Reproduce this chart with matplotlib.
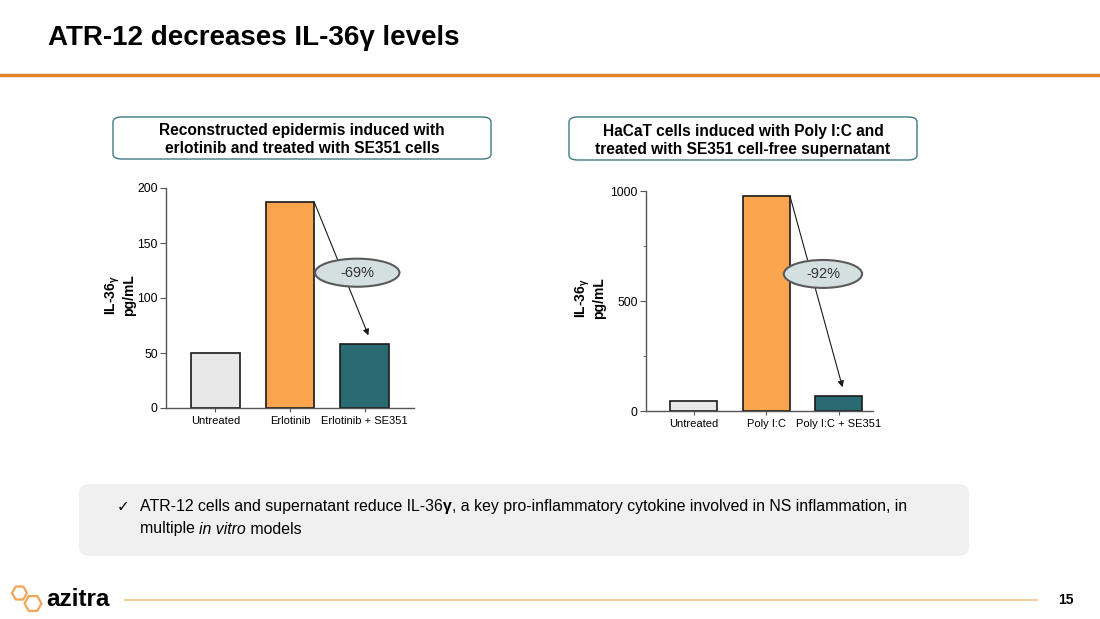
import matplotlib
matplotlib.use("Agg")
import matplotlib.pyplot as plt
from matplotlib.patches import FancyBboxPatch, Ellipse, RegularPolygon
import numpy as np

# data
left_cats = ["Untreated", "Erlotinib", "Erlotinib + SE351"]
left_vals = [50, 187, 58]
left_pct = "-69%"
right_cats = ["Untreated", "Poly I:C", "Poly I:C + SE351"]
right_vals = [47, 977, 68]
right_pct = "-92%"
bar_colors = ["#e8e8e8", "#fba64f", "#2a6b73"]

W, H = 1100, 619
plt.rcParams["font.family"] = ["Liberation Sans", "DejaVu Sans"]
plt.rcParams["mathtext.fontset"] = "custom"
plt.rcParams["mathtext.rm"] = "Liberation Sans"
plt.rcParams["mathtext.bf"] = "Liberation Sans:bold"

fig = plt.figure(figsize=(11, 6.19), dpi=100)
fig.patch.set_facecolor("white")


def px(x, y):
    return x / W, 1 - y / H


def box_px(x0, y0, x1, y1):
    return [x0 / W, 1 - y1 / H, (x1 - x0) / W, (y1 - y0) / H]


# header
fig.text(*px(48, 38), "ATR-12 decreases IL-36\u03b3 levels", fontsize=20,
         fontweight="bold", va="center", ha="left")
fig.add_artist(plt.Line2D([0, 1], [1 - 75 / H] * 2, color="#e0832a", lw=2.5))


def panel_title(x0, y0, x1, y1, txt):
    b = box_px(x0, y0, x1, y1)
    fig.add_artist(FancyBboxPatch((b[0], b[1]), b[2], b[3],
                                  boxstyle="round,pad=0,rounding_size=0.008",
                                  transform=fig.transFigure, fc="white",
                                  ec="#3d7a82", lw=1.0))
    fig.text(b[0] + b[2] / 2, b[1] + b[3] / 2 - 0.003, txt, ha="center",
             va="center", fontsize=11.2, fontweight="bold", linespacing=1.25)


def bar_panel(rect, cats, vals, ymax, yticks, minor, xlim, pct, ell_xy, ell_wh, lab_x):
    ax = fig.add_axes(rect)
    x = np.arange(len(cats))
    w = 0.65
    ax.bar(x, vals, width=w, color=bar_colors, edgecolor="#1a1a1a", lw=1.2,
           zorder=2)
    ax.set_xlim(*xlim)
    ax.set_ylim(0, ymax)
    ax.set_yticks(yticks)
    ax.set_yticks(minor, minor=True)
    ax.set_xticks(x)
    ax.set_xticklabels(cats, fontsize=8)
    ax.tick_params(axis="y", labelsize=8.7, length=4, color="#555555", pad=2)
    ax.tick_params(axis="y", which="minor", length=2.5, color="#555555")
    ax.tick_params(axis="x", length=3, color="#555555", pad=3)
    for s in ["top", "right"]:
        ax.spines[s].set_visible(False)
    for s in ["left", "bottom"]:
        ax.spines[s].set_color("#555555")
        ax.spines[s].set_linewidth(1.0)
    # arrow from the stimulated bar to the treated bar
    ax.annotate("", xy=(x[2] + 0.05, vals[2] + ymax * 0.04),
                xytext=(x[1] + w / 2, vals[1]),
                arrowprops=dict(arrowstyle="-|>", color="#1a1a1a", lw=0.8,
                                mutation_scale=9, shrinkA=0, shrinkB=0),
                zorder=3)
    ax.add_patch(Ellipse(ell_xy, ell_wh[0], ell_wh[1], fc="#d4dfe0",
                         ec="#5a5a5a", lw=1.5, zorder=4, clip_on=False))
    ax.text(ell_xy[0], ell_xy[1], pct, ha="center", va="center", fontsize=10.5,
            color="#333333", zorder=5)
    yc = rect[1] + rect[3] / 2 + 0.005
    fig.text(lab_x[0] / W, yc, "IL-36$_{\\mathregular{\u03b3}}$", rotation=90,
             ha="center", va="center", fontsize=10, fontweight="bold")
    fig.text(lab_x[1] / W, yc, "pg/mL", rotation=90, ha="center", va="center",
             fontsize=10, fontweight="bold")
    return ax


panel_title(113, 117, 491, 159,
            "Reconstructed epidermis induced with\nerlotinib and treated with SE351 cells")
panel_title(569, 117, 917, 160,
            "HaCaT cells induced with Poly I:C and\ntreated with SE351 cell-free supernatant")

bar_panel(box_px(166, 188, 414, 408), left_cats, left_vals, 200,
          [0, 50, 100, 150, 200], [], (-0.66, 2.66), left_pct,
          (1.9, 123), (1.13, 25.5), (113, 129))
bar_panel(box_px(646, 191, 873, 411), right_cats, right_vals, 1000,
          [0, 500, 1000], [250, 750], (-0.66, 2.47), right_pct,
          (1.78, 623), (1.08, 127), (583, 599))

# takeaway box
b = box_px(79, 484, 969, 556)
fig.add_artist(FancyBboxPatch((b[0], b[1]), b[2], b[3],
                              boxstyle="round,pad=0,rounding_size=0.012",
                              transform=fig.transFigure, fc="#f0f0f0",
                              ec="none"))

fig.canvas.draw()
renderer = fig.canvas.get_renderer()


def run_text(x, y, pieces, size=11.4):
    cx = x
    for txt, kw in pieces:
        t = fig.text(cx / W, 1 - y / H, txt, fontsize=size, va="center",
                     ha="left", **kw)
        ext = t.get_window_extent(renderer)
        cx += ext.width


fig.text(117 / W, 1 - 507 / H, "\u2713", fontsize=11, va="center",
         family=["DejaVu Sans"])
run_text(140, 507, [("ATR-12 cells and supernatant reduce IL-36", {}),
                    ("\u03b3", {"fontweight": "bold"}),
                    (", a key pro-inflammatory cytokine involved in NS inflammation, in", {})])
run_text(140, 529, [("multiple ", {}), ("in vitro", {"style": "italic"}),
                    (" models", {})])

# footer: logo hexagons drawn in inches so they stay regular
for cx, cy, r in [(19.5, 593, 0.075), (33, 603.5, 0.085)]:
    fig.add_artist(RegularPolygon((cx / 100, (H - cy) / 100), 6, radius=r,
                                  orientation=np.pi / 6, fc="none",
                                  ec="#f0a55a", lw=1.6,
                                  transform=fig.dpi_scale_trans))
fig.text(*px(46, 599), "azitra", fontsize=17.5, fontweight="bold", va="center",
         ha="left")
fig.add_artist(plt.Line2D([125 / W, 1037 / W], [1 - 600 / H] * 2,
                          color="#f2c48a", lw=1.2))
fig.text(*px(1066, 600), "15", fontsize=10, fontweight="bold", va="center",
         ha="center")

fig.savefig("out.png", dpi=100)
